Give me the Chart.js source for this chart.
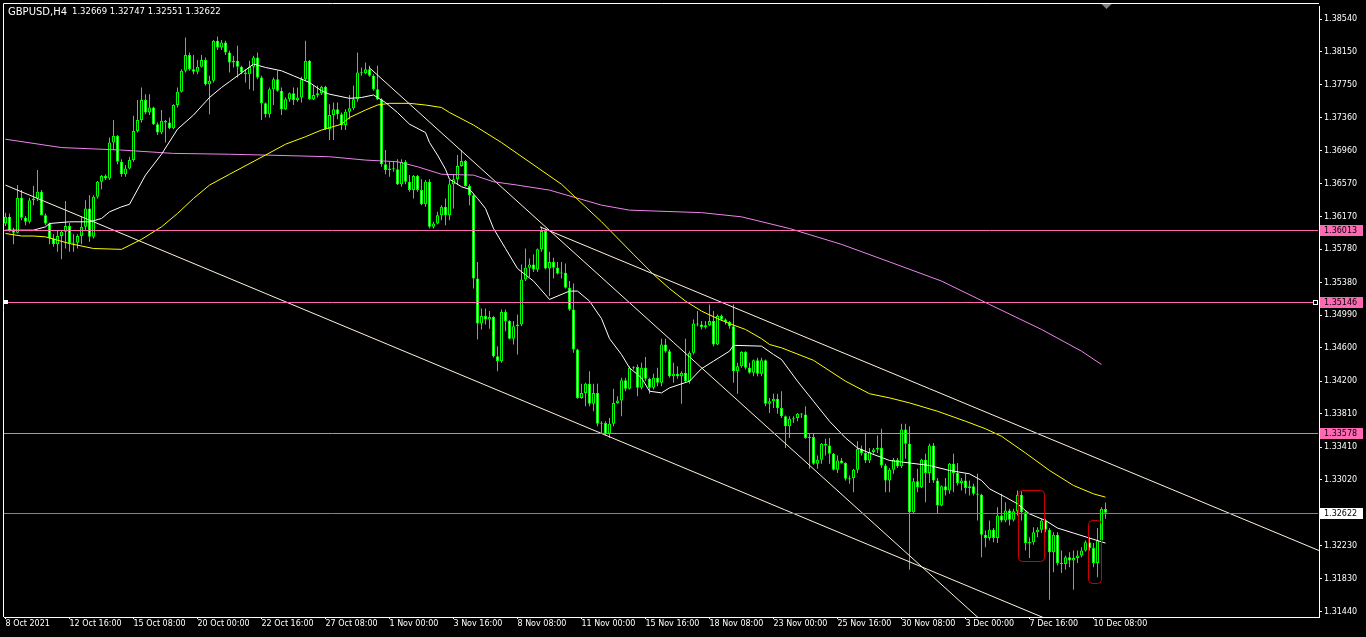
<!DOCTYPE html>
<html><head><meta charset="utf-8">
<script src="https://cdn.jsdelivr.net/npm/chart.js@4.4.1/dist/chart.umd.min.js"></script>
<style>html,body{margin:0;padding:0;background:#000;overflow:hidden}canvas{display:block}</style>
</head><body>
<canvas id="c" width="1366" height="637"></canvas>
<script>
const titleSymbol = 'GBPUSD,H4';
const titleQuote = '1.32669 1.32747 1.32551 1.32622';
const dateTickIdx = [0,16,32,48,64,80,96,112,128,144,160,176,192,208,224,240,256,272];
const dateLabels = ['8 Oct 2021','12 Oct 16:00','15 Oct 08:00','20 Oct 00:00','22 Oct 16:00','27 Oct 08:00','1 Nov 00:00','3 Nov 16:00','8 Nov 08:00','11 Nov 00:00','15 Nov 16:00','18 Nov 08:00','23 Nov 00:00','25 Nov 16:00','30 Nov 08:00','3 Dec 00:00','7 Dec 16:00','10 Dec 08:00'];
const priceTicks = [1.38540,1.38150,1.37750,1.37360,1.36960,1.36570,1.36170,1.35780,1.35380,1.34990,1.34600,1.34200,1.33810,1.33410,1.33020,1.32230,1.31830,1.31440];

const open = [1.3609,1.3617,1.3601,1.3598,1.3640,1.3616,1.3611,1.3637,1.3639,1.3647,1.3619,1.3609,1.3591,1.3584,1.3594,1.3599,1.3606,1.3585,1.3586,1.3594,
1.3605,1.3627,1.3593,1.3641,1.3659,1.3666,1.3663,1.3706,1.3714,1.3683,1.3668,1.3675,1.3685,1.3720,1.3733,1.3757,1.3742,1.3748,1.3728,1.3718,
1.3732,1.3730,1.3723,1.3751,1.3767,1.3792,1.3811,1.3794,1.3791,1.3797,1.3805,1.3776,1.3780,1.3828,1.3820,1.3826,1.3814,1.3802,1.3804,1.3797,
1.3790,1.3788,1.3797,1.3808,1.3784,1.3753,1.3740,1.3770,1.3782,1.3768,1.3746,1.3758,1.3765,1.3757,1.3760,1.3782,1.3804,1.3758,1.3763,1.3765,
1.3773,1.3722,1.3739,1.3746,1.3740,1.3727,1.3743,1.3747,1.3758,1.3790,1.3789,1.3794,1.3786,1.3770,1.3758,1.3680,1.3673,1.3675,1.3674,1.3656,
1.3683,1.3659,1.3649,1.3666,1.3649,1.3632,1.3659,1.3605,1.3609,1.3619,1.3629,1.3619,1.3656,1.3662,1.3678,1.3684,1.3654,1.3643,1.3543,1.3489,
1.3498,1.3494,1.3497,1.3450,1.3444,1.3503,1.3492,1.3471,1.3486,1.3488,1.3542,1.3556,1.3560,1.3554,1.3578,1.3600,1.3555,1.3563,1.3556,1.3549,
1.3550,1.3532,1.3506,1.3458,1.3400,1.3406,1.3417,1.3393,1.3406,1.3369,1.3370,1.3357,1.3369,1.3394,1.3397,1.3421,1.3411,1.3436,1.3437,1.3412,
1.3436,1.3423,1.3412,1.3424,1.3418,1.3464,1.3456,1.3426,1.3429,1.3426,1.3430,1.3420,1.3454,1.3489,1.3488,1.3485,1.3487,1.3492,1.3464,1.3498,
1.3494,1.3491,1.3486,1.3432,1.3438,1.3455,1.3436,1.3430,1.3445,1.3429,1.3445,1.3393,1.3396,1.3399,1.3388,1.3378,1.3366,1.3375,1.3376,1.3381,
1.3380,1.3352,1.3353,1.3321,1.3326,1.3345,1.3343,1.3333,1.3314,1.3325,1.3322,1.3303,1.3304,1.3314,1.3339,1.3334,1.3325,1.3335,1.3338,1.3340,
1.3319,1.3301,1.3314,1.3326,1.3318,1.3362,1.3345,1.3263,1.3300,1.3293,1.3326,1.3310,1.3343,1.3301,1.3271,1.3294,1.3289,1.3321,1.3310,1.3298,
1.3301,1.3292,1.3294,1.3285,1.3284,1.3236,1.3232,1.3242,1.3232,1.3259,1.3253,1.3265,1.3254,1.3264,1.3284,1.3263,1.3226,1.3227,1.3239,1.3242,
1.3253,1.3242,1.3215,1.3236,1.3202,1.3201,1.3209,1.3205,1.3208,1.3211,1.3217,1.3227,1.3220,1.3202,1.3229,1.32669];

const high = [1.3622,1.3621,1.3604,1.3655,1.3649,1.3618,1.3640,1.3654,1.3673,1.3649,1.3621,1.3610,1.3596,1.3601,1.3601,1.3636,1.3610,1.3596,1.3596,1.3617,
1.3637,1.3643,1.3643,1.3660,1.3667,1.3668,1.3712,1.3733,1.3715,1.3686,1.3679,1.3689,1.3738,1.3757,1.3772,1.3764,1.3764,1.3749,1.3730,1.3745,
1.3733,1.3736,1.3752,1.3772,1.3794,1.3832,1.3814,1.3811,1.3805,1.3811,1.3808,1.3786,1.3829,1.3833,1.3829,1.3828,1.3816,1.3810,1.3822,1.3798,
1.3794,1.3804,1.3810,1.3814,1.3786,1.3754,1.3772,1.3784,1.3792,1.3772,1.3760,1.3766,1.3772,1.3772,1.3785,1.3828,1.3805,1.3774,1.3774,1.3774,
1.3774,1.3752,1.3754,1.3754,1.3742,1.3746,1.3763,1.3774,1.3814,1.3796,1.3802,1.3798,1.3788,1.3798,1.3759,1.3697,1.3683,1.3683,1.3686,1.3686,
1.3685,1.3667,1.3667,1.3667,1.3662,1.3661,1.3662,1.3611,1.3623,1.3631,1.3639,1.3661,1.3668,1.3691,1.3697,1.3685,1.3656,1.3644,1.3563,1.3507,
1.3507,1.3504,1.3498,1.3462,1.3506,1.3506,1.3493,1.3492,1.3500,1.3560,1.3579,1.3567,1.3572,1.3579,1.3605,1.3603,1.3575,1.3568,1.3563,1.3563,
1.3561,1.3540,1.3537,1.3459,1.3417,1.3418,1.3432,1.3417,1.3417,1.3372,1.3372,1.3376,1.3411,1.3402,1.3424,1.3424,1.3438,1.3438,1.3440,1.3442,
1.3449,1.3424,1.3429,1.3436,1.3471,1.3471,1.3458,1.3442,1.3438,1.3432,1.3471,1.3456,1.3494,1.3504,1.3492,1.3492,1.3512,1.3504,1.3500,1.3500,
1.3495,1.3492,1.3512,1.3442,1.3456,1.3456,1.3442,1.3446,1.3448,1.3448,1.3446,1.3400,1.3405,1.3405,1.3408,1.3379,1.3378,1.3378,1.3382,1.3382,
1.3390,1.3358,1.3358,1.3331,1.3346,1.3351,1.3352,1.3334,1.3331,1.3328,1.3323,1.3307,1.3315,1.3348,1.3343,1.3358,1.3340,1.3340,1.3355,1.3363,
1.3321,1.3316,1.3328,1.3328,1.3369,1.3369,1.3366,1.3304,1.3315,1.3327,1.3333,1.3345,1.3346,1.3304,1.3295,1.3304,1.3322,1.3333,1.3322,1.3304,
1.3309,1.3301,1.3297,1.3309,1.3285,1.3241,1.3253,1.3244,1.3269,1.3285,1.3275,1.3267,1.3267,1.3289,1.3288,1.3264,1.3233,1.3245,1.3245,1.3255,
1.3255,1.3244,1.3239,1.3239,1.3217,1.3211,1.3215,1.3217,1.3217,1.3221,1.3229,1.3233,1.3226,1.3244,1.3269,1.32747];

const low = [1.3606,1.3599,1.3584,1.3597,1.3613,1.3607,1.3609,1.3631,1.3636,1.3619,1.3607,1.3584,1.3581,1.3575,1.3566,1.3579,1.3575,1.3575,1.3579,1.3584,
1.3601,1.3587,1.3591,1.3639,1.3650,1.3661,1.3661,1.3697,1.3680,1.3665,1.3665,1.3674,1.3683,1.3718,1.3730,1.3740,1.3739,1.3727,1.3715,1.3716,
1.3706,1.3722,1.3722,1.3748,1.3766,1.3790,1.3792,1.3788,1.3788,1.3796,1.3774,1.3740,1.3778,1.3817,1.3817,1.3811,1.3790,1.3796,1.3784,1.3788,
1.3778,1.3770,1.3768,1.3782,1.3733,1.3736,1.3736,1.3751,1.3767,1.3739,1.3745,1.3755,1.3751,1.3755,1.3754,1.3780,1.3757,1.3757,1.3760,1.3763,
1.3721,1.3709,1.3709,1.3734,1.3721,1.3721,1.3734,1.3745,1.3755,1.3786,1.3788,1.3785,1.3768,1.3757,1.3677,1.3668,1.3665,1.3671,1.3655,1.3653,
1.3656,1.3647,1.3639,1.3647,1.3631,1.3629,1.3603,1.3603,1.3608,1.3613,1.3607,1.3613,1.3627,1.3655,1.3677,1.3653,1.3631,1.3531,1.3470,1.3482,
1.3488,1.3483,1.3448,1.3432,1.3442,1.3480,1.3470,1.3464,1.3452,1.3486,1.3540,1.3545,1.3551,1.3551,1.3575,1.3554,1.3522,1.3543,1.3548,1.3543,
1.3531,1.3504,1.3454,1.3399,1.3399,1.3390,1.3390,1.3384,1.3366,1.3357,1.3355,1.3352,1.3366,1.3393,1.3378,1.3408,1.3410,1.3434,1.3402,1.3410,
1.3420,1.3405,1.3410,1.3414,1.3414,1.3454,1.3424,1.3418,1.3423,1.3393,1.3418,1.3417,1.3452,1.3486,1.3482,1.3483,1.3486,1.3462,1.3463,1.3492,
1.3488,1.3483,1.3418,1.3405,1.3436,1.3434,1.3429,1.3426,1.3426,1.3426,1.3390,1.3382,1.3388,1.3381,1.3376,1.3340,1.3352,1.3370,1.3372,1.3376,
1.3351,1.3315,1.3320,1.3315,1.3321,1.3331,1.3321,1.3313,1.3310,1.3321,1.3301,1.3297,1.3287,1.3310,1.3331,1.3322,1.3322,1.3333,1.3334,1.3316,
1.3287,1.3287,1.3309,1.3316,1.3316,1.3327,1.3194,1.3262,1.3287,1.3292,1.3275,1.3298,1.3298,1.3262,1.3270,1.3283,1.3285,1.3287,1.3295,1.3289,
1.3285,1.3283,1.3283,1.3253,1.3209,1.3221,1.3229,1.3227,1.3226,1.3251,1.3251,1.3247,1.3252,1.3259,1.3253,1.3217,1.3208,1.3224,1.3233,1.3238,
1.3239,1.3158,1.3191,1.3199,1.3190,1.3194,1.3197,1.3170,1.3202,1.3209,1.3216,1.3217,1.3197,1.3185,1.3227,1.32551];

const close = [1.3617,1.3601,1.3598,1.3640,1.3616,1.3611,1.3637,1.3639,1.3647,1.3619,1.3609,1.3591,1.3584,1.3594,1.3599,1.3606,1.3585,1.3586,1.3594,1.3605,
1.3627,1.3593,1.3641,1.3659,1.3666,1.3663,1.3706,1.3714,1.3683,1.3668,1.3675,1.3685,1.3720,1.3733,1.3757,1.3742,1.3748,1.3728,1.3718,1.3732,
1.3730,1.3723,1.3751,1.3767,1.3792,1.3811,1.3794,1.3791,1.3797,1.3805,1.3776,1.3780,1.3828,1.3820,1.3826,1.3814,1.3802,1.3804,1.3797,1.3790,
1.3788,1.3797,1.3808,1.3784,1.3753,1.3740,1.3770,1.3782,1.3768,1.3746,1.3758,1.3765,1.3757,1.3760,1.3782,1.3804,1.3758,1.3763,1.3765,1.3773,
1.3722,1.3739,1.3746,1.3740,1.3727,1.3743,1.3747,1.3758,1.3790,1.3789,1.3794,1.3786,1.3770,1.3758,1.3680,1.3673,1.3675,1.3674,1.3656,1.3683,
1.3659,1.3649,1.3666,1.3649,1.3632,1.3659,1.3605,1.3609,1.3619,1.3629,1.3619,1.3656,1.3662,1.3678,1.3684,1.3654,1.3643,1.3543,1.3489,1.3498,
1.3494,1.3497,1.3450,1.3444,1.3503,1.3492,1.3471,1.3486,1.3488,1.3542,1.3556,1.3560,1.3554,1.3578,1.3600,1.3555,1.3563,1.3556,1.3549,1.3550,
1.3532,1.3506,1.3458,1.3400,1.3406,1.3417,1.3393,1.3406,1.3369,1.3370,1.3357,1.3369,1.3394,1.3397,1.3421,1.3411,1.3436,1.3437,1.3412,1.3436,
1.3423,1.3412,1.3424,1.3418,1.3464,1.3456,1.3426,1.3429,1.3426,1.3430,1.3420,1.3454,1.3489,1.3488,1.3485,1.3487,1.3492,1.3464,1.3498,1.3494,
1.3491,1.3486,1.3432,1.3438,1.3455,1.3436,1.3430,1.3445,1.3429,1.3445,1.3393,1.3396,1.3399,1.3388,1.3378,1.3366,1.3375,1.3376,1.3381,1.3380,
1.3352,1.3353,1.3321,1.3326,1.3345,1.3343,1.3333,1.3314,1.3325,1.3322,1.3303,1.3304,1.3314,1.3339,1.3334,1.3325,1.3335,1.3338,1.3340,1.3319,
1.3301,1.3314,1.3326,1.3318,1.3362,1.3345,1.3263,1.3300,1.3293,1.3326,1.3310,1.3343,1.3301,1.3271,1.3294,1.3289,1.3321,1.3310,1.3298,1.3301,
1.3292,1.3294,1.3285,1.3284,1.3236,1.3232,1.3242,1.3232,1.3259,1.3253,1.3265,1.3254,1.3264,1.3284,1.3263,1.3226,1.3227,1.3239,1.3242,1.3253,
1.3242,1.3215,1.3236,1.3202,1.3201,1.3209,1.3205,1.3208,1.3211,1.3217,1.3227,1.3220,1.3202,1.3229,1.3267,1.32622];

// moving averages: bar index / price
const maFastIdx = [0,7,10,11,16,21,24,26,29,31,35,39,43,47,51,54,56,58,62,65,69,72,76,79,81,86,89,92,95,98,101,105,106,108,110,111,114,116,118,120,122,125,128,132,136,141,143,146,149,151,154,156,159,161,164,166,171,174,177,181,182,189,192,194,198,202,206,210,213,216,221,226,231,236,241,244,246,250,253,256,260,263,267,271,275];
const maFastVal = [1.3601,1.3601,1.3605,1.3609,1.3611,1.3611,1.3615,1.3623,1.3629,1.3632,1.3667,1.3692,1.3722,1.3739,1.3760,1.3772,1.3779,1.3786,1.3800,1.3796,1.3792,1.3786,1.3778,1.3768,1.3764,1.3759,1.3760,1.3763,1.3754,1.3742,1.3728,1.3718,1.3706,1.3691,1.3674,1.3662,1.3653,1.3650,1.3639,1.3627,1.3603,1.3579,1.3555,1.3540,1.3518,1.3528,1.3528,1.3516,1.3495,1.3471,1.3452,1.3436,1.3424,1.3408,1.3406,1.3412,1.3420,1.3435,1.3444,1.3456,1.3463,1.3462,1.3452,1.3446,1.3420,1.3396,1.3372,1.3352,1.3340,1.3334,1.3325,1.3322,1.3319,1.3313,1.3309,1.3301,1.3291,1.3281,1.3273,1.3261,1.3253,1.3244,1.3238,1.3232,1.3226];
const maMidIdx = [0,4,7,10,16,22,29,34,39,43,47,51,56,65,70,75,79,84,86,90,93,96,101,105,109,111,117,124,139,149,157,162,166,170,174,178,181,185,189,191,194,202,210,216,221,226,233,240,245,249,255,261,267,272,275];
const maMidVal = [1.3597,1.3594,1.3594,1.3593,1.3585,1.3579,1.3578,1.3590,1.3605,1.3621,1.3639,1.3655,1.3668,1.3691,1.3704,1.3713,1.3721,1.3728,1.3736,1.3745,1.3751,1.3753,1.3753,1.3751,1.3748,1.3742,1.3727,1.3706,1.3656,1.3611,1.3572,1.3548,1.3531,1.3516,1.3504,1.3495,1.3489,1.3482,1.3471,1.3464,1.3460,1.3445,1.3420,1.3405,1.3400,1.3394,1.3384,1.3372,1.3363,1.3354,1.3334,1.3313,1.3295,1.3285,1.3281];
const maSlowIdx = [0,14,29,42,56,65,81,90,98,103,109,117,122,128,136,149,156,174,184,196,209,221,234,246,259,269,274];
const maSlowVal = [1.3710,1.3700,1.3697,1.3693,1.3692,1.3691,1.3689,1.3685,1.3683,1.3677,1.3668,1.3667,1.3659,1.3655,1.3649,1.3631,1.3625,1.3622,1.3617,1.3603,1.3584,1.3563,1.3540,1.3512,1.3482,1.3456,1.3440];

// horizontal levels
const hLevels = [1.36013, 1.35146, 1.33578, 1.32622];
// trend lines: start / end (bar index, price)
const trendX0 = [0, 133.6, 90.9];
const trendY0 = [1.3655, 1.3605, 1.3796];
const trendX1 = [328.4, 328.4, 250];
const trendY1 = [1.2999, 1.3217, 1.3107];
// rounded rectangles (bar index, price)
const boxX0 = [253, 270.5];
const boxX1 = [259.5, 273.8];
const boxTop = [1.3290, 1.3254];
const boxBottom = [1.3204, 1.3178];

const FONT = "'DejaVu Sans', 'Liberation Sans', sans-serif";
const LIME = '#00ff00';
const PINK = '#ff69b4';
const XMIN = -0.375, XMAX = 328.375;

const idx = open.map((_, i) => i);
const wickData = idx.map(i => ({x: i, y: [low[i], high[i]]}));
const bodyData = idx.map(i => ({x: i, y: [open[i], close[i]]}));
const bodyFill = idx.map(i => close[i] < open[i] ? '#ffffff' : '#000000');
const pts = (xs, ys) => xs.map((x, k) => ({x, y: ys[k]}));

const datasets = [
  {type:'line', label:'fast', data: pts(maFastIdx, maFastVal), borderColor:'#ffffff', borderWidth:1, pointRadius:0, tension:0, order:1},
  {type:'line', label:'mid', data: pts(maMidIdx, maMidVal), borderColor:'#ffff00', borderWidth:1, pointRadius:0, tension:0, order:1},
  {type:'line', label:'slow', data: pts(maSlowIdx, maSlowVal), borderColor:'#ee82ee', borderWidth:1, pointRadius:0, tension:0, order:1},
];
trendX0.forEach((x0, k) => datasets.push({type:'line', label:'trend'+k, data:[{x:x0, y:trendY0[k]}, {x:trendX1[k], y:trendY1[k]}], borderColor:'#fff3dc', borderWidth:1, pointRadius:0, order:2}));
datasets.push({type:'bar', label:'wick', data: wickData, backgroundColor: LIME, borderWidth:0, barThickness:1, grouped:false, inflateAmount:0, order:21});
datasets.push({type:'bar', label:'body', data: bodyData, backgroundColor: bodyFill, borderColor: LIME, borderWidth:1, borderSkipped:false, barThickness:3, grouped:false, inflateAmount:0, minBarLength:1, order:20});

const bgPlugin = {
  id:'bgp',
  beforeDraw(chart){ const c = chart.ctx; c.save(); c.fillStyle = '#000'; c.fillRect(0,0,chart.width,chart.height); c.restore(); }
};

const overlay = {
  id:'overlay',
  afterDatasetsDraw(chart){
    const c = chart.ctx, a = chart.chartArea, xs = chart.scales.x, ys = chart.scales.y;
    c.save();
    c.strokeStyle = '#ffffff'; c.lineWidth = 1;
    c.beginPath(); c.moveTo(3.5, 3.5); c.lineTo(3.5, a.bottom); c.moveTo(3.5, 3.5); c.lineTo(a.right, 3.5); c.stroke();
    hLevels.forEach((v, k) => {
      const y = Math.round(ys.getPixelForValue(v)) + 0.5;
      c.strokeStyle = k === 3 ? '#778899' : PINK;
      c.beginPath(); c.moveTo(a.left, y); c.lineTo(a.right - 1, y); c.stroke();
    });
    const y2 = Math.round(ys.getPixelForValue(hLevels[1]));
    c.fillStyle = '#fff'; c.strokeStyle = '#fff';
    c.fillRect(4, y2 - 2, 4, 4);
    c.fillStyle = '#000'; c.fillRect(1313, y2 - 2, 5, 5); c.strokeRect(1313.5, y2 - 1.5, 4, 4);
    c.strokeStyle = '#d00000'; c.lineWidth = 1;
    boxX0.forEach((x0, k) => {
      const l = Math.round(xs.getPixelForValue(x0)) + 0.5, r = Math.round(xs.getPixelForValue(boxX1[k])) + 0.5;
      const t = Math.round(ys.getPixelForValue(boxTop[k])) + 0.5, b = Math.round(ys.getPixelForValue(boxBottom[k])) + 0.5;
      c.beginPath(); c.roundRect(l, t, r - l, b - t, 4); c.stroke();
    });
    const sx = Math.round(xs.getPixelForValue(275)) + 0.5;
    c.fillStyle = '#808080';
    c.beginPath(); c.moveTo(sx - 5, 4); c.lineTo(sx + 5, 4); c.lineTo(sx, 9); c.closePath(); c.fill();
    c.restore();
  },
  afterDraw(chart){
    const c = chart.ctx, a = chart.chartArea, ys = chart.scales.y;
    c.save();
    c.font = '8px ' + FONT; c.textBaseline = 'middle'; c.textAlign = 'left';
    hLevels.forEach((v, k) => {
      const y = Math.round(ys.getPixelForValue(v));
      c.fillStyle = k === 3 ? '#ffffff' : PINK;
      c.fillRect(a.right + 1, y - 5, 43, 11);
      c.fillStyle = '#000';
      c.fillText(v.toFixed(5), a.right + 5, y + 0.5);
    });
    c.fillStyle = '#ffffff'; c.textBaseline = 'middle';
    c.font = '10px ' + FONT;
    c.fillText(titleSymbol, 8, 12);
    c.font = '8.5px ' + FONT;
    c.fillText(titleQuote, 72, 12);
    c.restore();
  }
};

new Chart(document.getElementById('c'), {
  data: { datasets },
  options: {
    responsive:false, devicePixelRatio:1, animation:false, events:[],
    layout:{ padding:{ left:4, top:4, right:0, bottom:0 } },
    plugins:{ legend:{display:false}, tooltip:{enabled:false}, title:{display:false} },
    scales:{
      x:{ type:'linear', position:'bottom', min:XMIN, max:XMAX, offset:false,
        afterBuildTicks: s => { s.ticks = dateTickIdx.map(v => ({value:v})); },
        afterFit: s => { s.height = 20; },
        ticks:{ autoSkip:false, maxRotation:0, minRotation:0, align:'start', color:'#ffffff', padding:0, font:{family:FONT, size:8},
          callback: (v) => dateLabels[dateTickIdx.indexOf(v)] },
        grid:{ display:true, offset:false, drawOnChartArea:false, drawTicks:true, tickLength:2, color:'#ffffff' },
        border:{ display:true, color:'#ffffff', width:1 }
      },
      y:{ type:'linear', position:'right', min:1.31374, max:1.38687,
        afterBuildTicks: s => { s.ticks = priceTicks.map(v => ({value:v})); },
        afterFit: s => { s.width = 47; },
        ticks:{ autoSkip:false, color:'#ffffff', padding:2, font:{family:FONT, size:8}, callback: v => v.toFixed(5) },
        grid:{ display:true, drawOnChartArea:false, drawTicks:true, tickLength:3, color:'#ffffff' },
        border:{ display:true, color:'#ffffff', width:1 }
      }
    }
  },
  plugins:[bgPlugin, overlay]
});
</script>
</body></html>
